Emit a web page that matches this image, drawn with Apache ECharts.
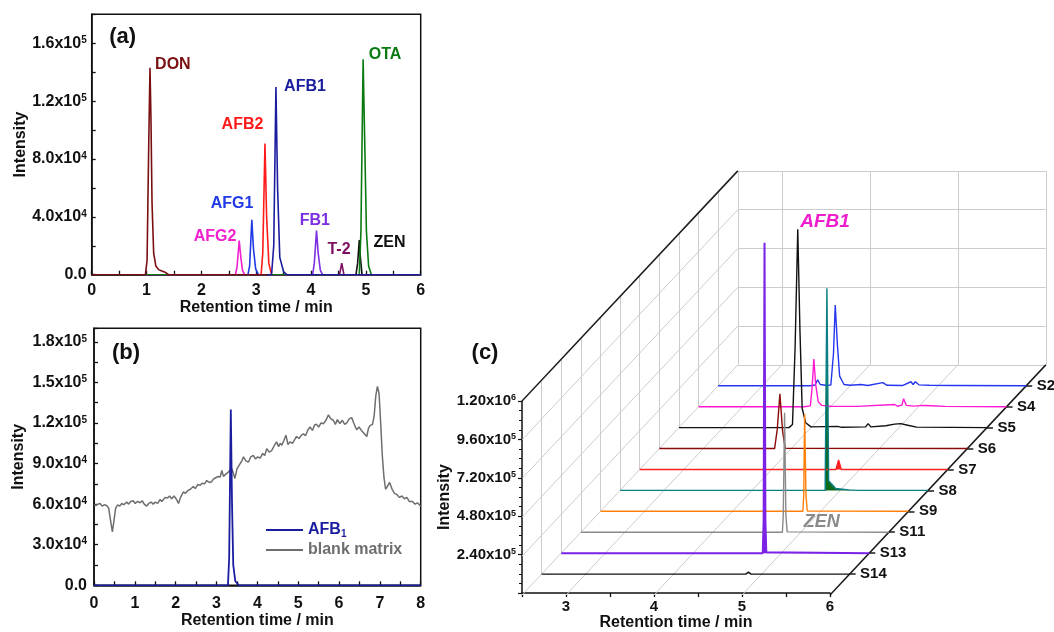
<!DOCTYPE html>
<html>
<head>
<meta charset="utf-8">
<script src="https://cdn.jsdelivr.net/npm/echarts@6/dist/echarts.min.js"></script>
<style>
  html, body { margin: 0; padding: 0; background: #fff; }
  #chart { width: 1054px; height: 632px; }
</style>
</head>
<body>
<div id="chart"></div>
<script>
const FONT = '"Liberation Sans", Arial, sans-serif';
const INK = '#111';

// ---------- (a) standard mixture: [retention time (min), intensity]
const pkAFG2 = [[0.9, 0], [2.62, 0], [2.65, 0.5e4], [2.69, 2.36e4], [2.72, 1.2e4], [2.75, 0.3e4], [2.79, 0], [6, 0]];
const pkAFG1 = [[0.9, 0], [2.85, 0], [2.88, 0.6e4], [2.92, 3.79e4], [2.95, 1.8e4], [2.99, 0.4e4], [3.04, 0], [6, 0]];
const pkAFB2 = [[0.9, 0], [3.09, 0], [3.12, 1.5e4], [3.16, 9.06e4], [3.19, 4.0e4], [3.23, 0.8e4], [3.28, 0], [6, 0]];
const pkFB1 = [[0.9, 0], [4.03, 0], [4.06, 0.8e4], [4.10, 3.05e4], [4.13, 1.5e4], [4.17, 0.3e4], [4.21, 0], [6, 0]];
const pkT2 = [[0.9, 0], [4.52, 0], [4.56, 0.79e4], [4.60, 0], [6, 0]];
const pkZEN = [[0.9, 0], [4.82, 0], [4.85, 0.8e4], [4.88, 2.4e4], [4.90, 1.2e4], [4.93, 0], [6, 0]];
const pkOTA = [[0.9, 0], [4.88, 0], [4.91, 3.0e4], [4.95, 14.89e4], [4.98, 9.0e4], [5.01, 3.0e4], [5.05, 0.6e4], [5.10, 0], [6, 0]];
const pkDON = [[0, 0], [0.98, 0], [1.01, 1.0e4], [1.04, 9.0e4], [1.063, 14.3e4], [1.08, 11.0e4], [1.10, 5.0e4], [1.13, 1.5e4], [1.17, 0.6e4], [1.22, 0.35e4], [1.28, 0.25e4], [1.35, 0.15e4], [1.40, 0], [3.2, 0]];
const pkAFB1 = [[3.2, 0], [3.28, 0], [3.32, 2.0e4], [3.36, 12.97e4], [3.39, 6.0e4], [3.43, 1.2e4], [3.50, 0.2e4], [3.56, 0], [6, 0]];

const mixNames = ['AFG2', 'AFG1', 'AFB2', 'FB1', 'T-2', 'ZEN', 'OTA', 'DON', 'AFB1'];
const mixPeaks = [pkAFG2, pkAFG1, pkAFB2, pkFB1, pkT2, pkZEN, pkOTA, pkDON, pkAFB1];
const mixColors = ['#f01fd0', '#1f3ae6', '#ff1a1a', '#7b2fe0', '#7d0f63', '#111111', '#0b7a12', '#7a0f12', '#1a1d9e'];
// where each compound name sits, [t, intensity]
const mixLabelAt = [[2.25, 2.64e4], [2.56, 4.9e4], [2.75, 10.4e4], [4.07, 3.74e4], [4.51, 1.71e4], [5.43, 2.22e4], [5.35, 15.2e4], [1.48, 14.5e4], [3.89, 13.0e4]];

// ---------- (b) AFB1 vs blank matrix
const afb1Spiked = [[0, 0], [3.28, 0], [3.31, 2.0e4], [3.35, 1.3e5], [3.38, 6.0e4], [3.41, 1.5e4], [3.46, 0.3e4], [3.55, 0], [8, 0]];
// blank matrix, intensity in units of 1e4
const blankT = [0.00, 0.05, 0.10, 0.15, 0.20, 0.25, 0.31, 0.36, 0.40, 0.45, 0.49, 0.53, 0.58, 0.63, 0.68, 0.73, 0.80, 0.85, 0.90, 0.96,
  1.01, 1.06, 1.13, 1.18, 1.23, 1.29, 1.34, 1.40, 1.45, 1.50, 1.56, 1.62, 1.66, 1.70, 1.75, 1.80, 1.85, 1.90, 1.96, 2.02,
  2.07, 2.12, 2.19, 2.24, 2.30, 2.36, 2.43, 2.48, 2.54, 2.60, 2.65, 2.71, 2.76, 2.82, 2.88, 2.92, 2.98, 3.04, 3.09, 3.13,
  3.17, 3.22, 3.28, 3.33, 3.38, 3.45, 3.50, 3.56, 3.62, 3.66, 3.72, 3.78, 3.84, 3.90, 3.95, 4.01, 4.07, 4.13, 4.18, 4.23,
  4.29, 4.35, 4.41, 4.47, 4.52, 4.56, 4.60, 4.65, 4.70, 4.75, 4.80, 4.86, 4.92, 4.96, 5.02, 5.08, 5.13, 5.18, 5.24, 5.29,
  5.35, 5.40, 5.45, 5.50, 5.56, 5.62, 5.68, 5.74, 5.80, 5.86, 5.91, 5.96, 6.02, 6.08, 6.14, 6.19, 6.25, 6.31, 6.36, 6.43,
  6.49, 6.56, 6.62, 6.68, 6.72, 6.76, 6.82, 6.86, 6.90, 6.94, 6.98, 7.02, 7.06, 7.10, 7.14, 7.18, 7.24, 7.30, 7.36, 7.42,
  7.48, 7.54, 7.60, 7.66, 7.72, 7.80, 7.86, 7.92, 8.00];
const blankI = [5.95, 5.9, 6.0, 6.05, 5.85, 5.95, 5.9, 5.7, 4.9, 3.95, 4.8, 5.7, 5.95, 5.85, 6.05, 5.95, 6.15, 6.0, 6.2, 6.25,
  6.05, 6.2, 6.1, 6.25, 6.0, 5.85, 6.05, 6.15, 6.0, 6.15, 6.05, 6.35, 6.2, 6.35, 6.5, 6.45, 6.6, 6.4, 6.6, 6.35,
  6.05, 6.5, 6.9, 6.8, 7.0, 7.1, 7.3, 7.15, 7.45, 7.4, 7.55, 7.5, 7.75, 7.6, 7.65, 7.85, 7.95, 8.05, 8.0, 8.5,
  8.05, 8.2, 8.35, 8.5, 8.6, 7.9, 8.6, 8.9, 9.2, 9.5, 9.2, 9.1, 9.5, 9.6, 9.35, 9.5, 9.4, 9.75, 9.6, 10.1,
  9.85, 9.95, 10.3, 10.6, 10.25, 10.5, 10.35, 10.7, 11.1, 10.4, 10.6, 10.5, 10.8, 11.0, 10.85, 11.1, 11.2, 11.05, 11.5, 11.7,
  11.45, 11.85, 11.9, 11.7, 12.0, 11.95, 12.2, 12.6, 12.3, 12.2, 11.9, 12.25, 11.95, 12.2, 11.9, 12.0, 12.3, 12.4, 12.0, 11.5,
  11.7, 11.4, 11.2, 11.0, 11.6, 11.8, 11.9, 12.5, 14.0, 14.7, 14.2, 12.0, 9.6, 8.0, 7.1, 7.2, 7.6, 7.1, 6.8, 6.7,
  6.5, 6.6, 6.4, 6.5, 6.2, 6.2, 6.0, 6.1, 5.85];

// ---------- (c) real samples, front to back
const samples = ['S14', 'S13', 'S11', 'S9', 'S8', 'S7', 'S6', 'S5', 'S4', 'S2'];
const sampleColors = ['#111111', '#7b22e6', '#8a8a8a', '#ff800a', '#0a7f86', '#ff2020', '#8b0a0a', '#111111', '#ff19d2', '#2436f0'];
const trS14 = [[2.5, 0], [4.82, 0], [4.85, 1.2e4], [4.88, 0], [6, 0]];
const trS13 = [[2.5, 0], [4.79, 0], [4.80, 2.0e5], [4.81, 1.92e6], [4.82, 2.0e5], [4.83, 0.5e4], [6, 0]];
const trS11 = [[2.5, 0], [4.79, 0], [4.80, 1.0e5], [4.815, 7.39e5], [4.83, 1.0e5], [4.845, 0.2e4], [6, 0]];
const trS9 = [[2.5, 0], [4.80, 0], [4.81, 1.0e5], [4.82, 6.0e5], [4.835, 1.0e5], [4.85, 0.2e4], [6, 0]];
const trS8 = [[2.5, 0], [4.83, 0], [4.85, 1.25e6], [4.87, 0.6e5], [4.95, 1.2e4], [5.10, 0.3e4], [5.20, 0], [6, 0]];
const trS7 = [[2.5, 0], [4.73, 0], [4.76, 5.9e4], [4.79, 0], [6, 0]];
const trS6 = [[2.5, 0], [3.81, 0], [3.84, 1.2e5], [3.87, 3.38e5], [3.90, 1.1e5], [3.93, 0.2e4], [6, 0]];
const trS5 = [[2.5, 0], [3.75, 0], [3.79, 0.2e5], [3.82, 5.0e5], [3.85, 1.227e6], [3.875, 6.0e5], [3.90, 1.2e5], [3.94, 0.3e5], [4.0, 0.5e4],
  [4.30, 0.8e4], [4.35, 0.2e4], [4.62, 0.5e4], [4.65, 2.5e4], [4.68, 0.5e4], [4.85, 1.2e4], [4.95, 2.2e4], [5.02, 2.5e4], [5.10, 1.5e4], [5.20, 0.3e4], [6, 0]];
const trS4 = [[2.5, 0], [3.70, 0], [3.77, 0.5e4], [3.79, 1.2e5], [3.81, 2.95e5], [3.83, 1.4e5], [3.86, 0.3e5], [3.90, 0.8e4], [4.0, 0.3e4],
  [4.30, 0.2e4], [4.73, 1.4e4], [4.76, 0.3e4], [4.81, 1.0e4], [4.83, 4.9e4], [4.86, 0.8e4], [4.95, 0.4e4], [5.05, 0.8e4], [5.15, 0.6e4], [5.30, 0.2e4], [6, 0]];
const trS2 = [[2.5, 0], [3.55, 0], [3.60, 0.5e4], [3.63, 3.7e4], [3.66, 0.8e4], [3.72, 0.3e4], [3.78, 0.5e4], [3.81, 2.0e5], [3.83, 5.0e5], [3.855, 2.5e5],
  [3.88, 0.6e5], [3.93, 0.8e4], [4.0, 0.3e4], [4.12, 0.8e4], [4.20, 0.2e4], [4.37, 2.0e4], [4.42, 0.3e4], [4.60, 0.2e4], [4.69, 2.5e4], [4.715, 0.8e4],
  [4.74, 2.5e4], [4.78, 0.6e4], [4.90, 0.3e4], [5.20, 0.2e4], [6, 0]];
const traces = [trS14, trS13, trS11, trS9, trS8, trS7, trS6, trS5, trS4, trS2];
const ticksC = [0, 2.4e5, 4.8e5, 7.2e5, 9.6e5, 1.2e6];
const timeTicksC = [2.5, 3, 4, 5, 6];

// oblique projection for panel (c)
const PX_MIN = 88;               // px per minute on the front axis
const I_PX = 1.2e6 / 194;        // intensity per px
const STEP = [19.62, -20.92];    // px shift per sample row
const DEPTH = samples.length + 1;
function proj(t, I, k) {
  return [t + k * STEP[0] / PX_MIN, I - k * STEP[1] * I_PX];
}

function sci(v, digits) {
  if (v === 0) return '{b|0.0}';
  const e = Math.floor(Math.log10(v) + 1e-9);
  return '{b|' + (v / Math.pow(10, e)).toFixed(digits) + 'x10}{s|' + e + '}';
}
const onStep = (v, step) => Math.abs(v / step - Math.round(v / step)) < 1e-6;

function labRich(size) {
  return {
    b: { fontFamily: FONT, fontWeight: 'bold', fontSize: size, color: INK },
    s: { fontFamily: FONT, fontWeight: 'bold', fontSize: Math.round(size * 0.6), color: INK, verticalAlign: 'top', lineHeight: 10 }
  };
}

const axisLineK = { show: true, lineStyle: { color: INK, width: 1.5 } };
const tickLab = { fontFamily: FONT, fontWeight: 'bold', fontSize: 16, color: INK };
const nameStyle = { fontFamily: FONT, fontWeight: 'bold', fontSize: 16, color: INK };
const clear = { color: 'rgba(0,0,0,0)' };

const chart = echarts.init(document.getElementById('chart'));

const wire = [];
const light = { color: '#cccccc', width: 1 };
const dark = { color: '#1a1a1a', width: 1.5 };
timeTicksC.forEach(t => wire.push({ coords: [proj(t, 0, DEPTH), proj(t, 1.2e6, DEPTH)], lineStyle: light }));
ticksC.forEach(I => wire.push({ coords: [proj(2.5, I, DEPTH), proj(6, I, DEPTH)], lineStyle: light }));
for (let k = 1; k < DEPTH; k++) wire.push({ coords: [proj(2.5, 0, k), proj(2.5, 1.2e6, k)], lineStyle: light });
ticksC.slice(0, 5).forEach(I => wire.push({ coords: [proj(2.5, I, 0), proj(2.5, I, DEPTH)], lineStyle: light }));
[3, 4, 5].forEach(t => wire.push({ coords: [proj(t, 0, 0), proj(t, 0, DEPTH)], lineStyle: light }));
wire.push({ coords: [proj(2.5, 1.2e6, 0), proj(2.5, 1.2e6, DEPTH)], lineStyle: dark });
wire.push({ coords: [proj(6, 0, 0), proj(6, 0, DEPTH)], lineStyle: dark });
for (let k = 1; k < DEPTH; k++) {
  const p = proj(6, 0, k);
  wire.push({ coords: [p, [p[0] + 6 / PX_MIN, p[1]]], lineStyle: dark });
}

const mixSeries = mixNames.map((n, i) => ({
  type: 'line', name: 'a-' + n, xAxisIndex: 0, yAxisIndex: 0,
  data: mixPeaks[i], symbol: 'none', lineStyle: { color: mixColors[i], width: 1.6 }, silent: true
}));

const traceSeries = samples.map((s, i) => {
  const k = i + 1;
  const base = proj(0, 0, k)[1];
  const filled = { S8: '#0b6b1c', S7: '#ff2020', S13: '#7b22e6' }[s];
  return {
    type: 'line', name: s, xAxisIndex: 3, yAxisIndex: 3, clip: false, silent: true,
    data: traces[i].map(p => proj(p[0], p[1], k)), symbol: 'none',
    lineStyle: { color: sampleColors[i], width: s === 'S13' ? 2 : 1.4 },
    areaStyle: filled ? { color: filled, opacity: 1, origin: base } : undefined,
    z: 3
  };
}).reverse();

const option = {
  backgroundColor: '#fff',
  animation: false,
  textStyle: { fontFamily: FONT },
  grid: [
    { left: 91.7, top: 14.3, width: 329, height: 260.4, show: true, borderColor: INK, borderWidth: 1.5, backgroundColor: 'transparent' },
    { left: 94, top: 328.3, width: 326.7, height: 257, show: true, borderColor: INK, borderWidth: 1.5, backgroundColor: 'transparent' },
    { left: 522, top: 401, width: 308, height: 194 },
    { left: 522, top: 125, width: 530, height: 470 }
  ],
  xAxis: [
    { gridIndex: 0, type: 'value', min: 0, max: 6, interval: 0.5, axisLine: axisLineK,
      axisTick: { inside: true, length: 4, lineStyle: { color: INK, width: 1.3 } }, splitLine: { show: false },
      axisLabel: Object.assign({ margin: 8, formatter: v => onStep(v, 1) ? String(v) : '' }, tickLab),
      name: 'Retention time / min', nameLocation: 'middle', nameGap: 23, nameTextStyle: nameStyle },
    { gridIndex: 1, type: 'value', min: 0, max: 8, interval: 0.5, axisLine: axisLineK,
      axisTick: { inside: true, length: 4, lineStyle: { color: INK, width: 1.3 } }, splitLine: { show: false },
      axisLabel: Object.assign({ margin: 10, formatter: v => onStep(v, 1) ? String(v) : '' }, tickLab),
      name: 'Retention time / min', nameLocation: 'middle', nameGap: 26, nameTextStyle: nameStyle },
    { gridIndex: 2, type: 'value', min: 2.5, max: 6, interval: 0.5, axisLine: axisLineK,
      axisTick: { length: 4, lineStyle: { color: INK, width: 1.3 } }, splitLine: { show: false },
      axisLabel: Object.assign({ margin: 6, formatter: v => onStep(v, 1) ? String(v) : '' }, tickLab, { fontSize: 15 }),
      name: 'Retention time / min', nameLocation: 'middle', nameGap: 20, nameTextStyle: nameStyle },
    { gridIndex: 3, type: 'value', min: 2.5, max: 2.5 + 530 / PX_MIN, show: false }
  ],
  yAxis: [
    { gridIndex: 0, type: 'value', min: 0, max: 1.8e5, interval: 2e4, axisLine: axisLineK,
      axisTick: { inside: true, length: 4, lineStyle: { color: INK, width: 1.3 } }, splitLine: { show: false },
      axisLabel: { margin: 5, formatter: v => onStep(v, 4e4) ? sci(v, 1) : '', rich: labRich(16) },
      name: 'Intensity', nameLocation: 'middle', nameGap: 63, nameTextStyle: nameStyle },
    { gridIndex: 1, type: 'value', min: 0, max: 1.9e5, interval: 1.5e4, axisLine: axisLineK,
      axisTick: { inside: true, length: 4, lineStyle: { color: INK, width: 1.3 } }, splitLine: { show: false },
      axisLabel: { margin: 7, formatter: v => onStep(v, 3e4) ? sci(v, 1) : '', rich: labRich(16) },
      name: 'Intensity', nameLocation: 'middle', nameGap: 67, nameTextStyle: nameStyle },
    { gridIndex: 2, type: 'value', min: 0, max: 1.2e6, interval: 2.4e5, axisLine: axisLineK,
      axisTick: { length: 4, lineStyle: { color: INK, width: 1.2 } },
      minorTick: { show: true, splitNumber: 4, length: 3, lineStyle: { color: INK, width: 1 } },
      splitLine: { show: false }, minorSplitLine: { show: false },
      axisLabel: { margin: 6, formatter: v => v === 0 ? '' : sci(v, 2), rich: labRich(15) },
      name: 'Intensity', nameLocation: 'middle', nameGap: 66, nameTextStyle: nameStyle },
    { gridIndex: 3, type: 'value', min: 0, max: 470 * I_PX, show: false }
  ],
  legend: {
    left: 261, top: 517, orient: 'vertical', itemWidth: 37, itemHeight: 2, itemGap: 3, icon: 'rect',
    data: ['AFB1', 'blank matrix'], selectedMode: false,
    formatter: n => n === 'AFB1' ? '{n|AFB}{sub|1}' : '{g|blank matrix}',
    textStyle: {
      rich: {
        n: { fontFamily: FONT, fontWeight: 'bold', fontSize: 16, color: '#1a1d9e', lineHeight: 18 },
        sub: { fontFamily: FONT, fontWeight: 'bold', fontSize: 10, color: '#1a1d9e', verticalAlign: 'bottom', lineHeight: 10 },
        g: { fontFamily: FONT, fontWeight: 'bold', fontSize: 16, color: '#6e6e6e', lineHeight: 18 }
      }
    }
  },
  series: [
    ...mixSeries,
    { type: 'scatter', xAxisIndex: 0, yAxisIndex: 0, symbolSize: 1, itemStyle: clear, silent: true, z: 5,
      data: mixNames.map((n, i) => ({ name: n, value: mixLabelAt[i], label: { color: mixColors[i] } })),
      label: { show: true, position: 'inside', formatter: '{b}', fontFamily: FONT, fontWeight: 'bold', fontSize: 16, textBorderWidth: 0, opacity: 1 },
      labelLayout: { hideOverlap: false } },
    { type: 'line', name: 'blank matrix', xAxisIndex: 1, yAxisIndex: 1, symbol: 'none', silent: true,
      data: blankT.map((t, i) => [t, blankI[i] * 1e4]), lineStyle: { color: '#6e6e6e', width: 1.5 }, itemStyle: { color: '#6e6e6e' } },
    { type: 'line', name: 'AFB1', xAxisIndex: 1, yAxisIndex: 1, symbol: 'none', silent: true,
      data: afb1Spiked, lineStyle: { color: '#1a1d9e', width: 1.8 }, itemStyle: { color: '#1a1d9e' } },
    { type: 'lines', coordinateSystem: 'cartesian2d', xAxisIndex: 3, yAxisIndex: 3, silent: true, z: 1,
      data: wire, lineStyle: { opacity: 1 } },
    ...traceSeries,
    { type: 'scatter', xAxisIndex: 3, yAxisIndex: 3, symbolSize: 1, itemStyle: clear, silent: true, z: 5,
      data: samples.map((s, i) => ({ name: s, value: proj(6, 0, i + 1) })),
      label: { show: true, position: 'right', distance: 10, offset: [0, 3], formatter: '{b}', fontFamily: FONT, fontWeight: 'bold', fontSize: 15, color: INK, textBorderWidth: 0, opacity: 1 },
      labelLayout: { hideOverlap: false } }
  ],
  graphic: [
    { type: 'text', x: 122.7, y: 36.7, style: { text: '(a)', font: 'bold 22px ' + FONT, fill: INK, align: 'center', verticalAlign: 'middle', textAlign: 'center', textVerticalAlign: 'middle' } },
    { type: 'text', x: 126, y: 353.3, style: { text: '(b)', font: 'bold 22px ' + FONT, fill: INK, align: 'center', verticalAlign: 'middle', textAlign: 'center', textVerticalAlign: 'middle' } },
    { type: 'text', x: 485, y: 353.3, style: { text: '(c)', font: 'bold 22px ' + FONT, fill: INK, align: 'center', verticalAlign: 'middle', textAlign: 'center', textVerticalAlign: 'middle' } },
    { type: 'text', x: 825, y: 221.7, style: { text: 'AFB1', font: 'italic bold 19px ' + FONT, fill: '#ee1ccc', align: 'center', verticalAlign: 'middle', textAlign: 'center', textVerticalAlign: 'middle' } },
    { type: 'text', x: 821.7, y: 521.7, style: { text: 'ZEN', font: 'italic bold 18px ' + FONT, fill: '#8a8a8a', align: 'center', verticalAlign: 'middle', textAlign: 'center', textVerticalAlign: 'middle' } }
  ]
};

chart.setOption(option);
</script>
</body>
</html>
